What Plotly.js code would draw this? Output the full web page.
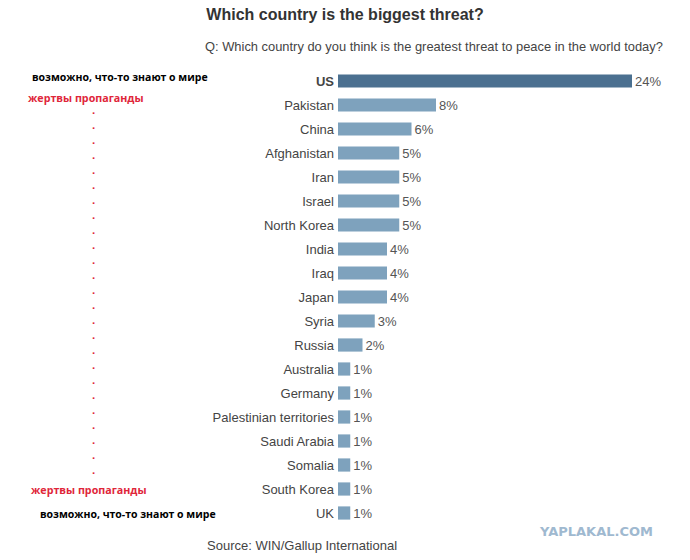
<!DOCTYPE html>
<html>
<head>
<meta charset="utf-8">
<script src="https://cdn.plot.ly/plotly-3.0.1.min.js"></script>
<style>html,body{margin:0;padding:0;background:#fff;}#chart{width:690px;height:560px;}</style>
</head>
<body>
<div id="chart"></div>
<script>
const countries = ["US","Pakistan","China","Afghanistan","Iran","Israel","North Korea","India","Iraq","Japan","Syria","Russia","Australia","Germany","Palestinian territories","Saudi Arabia","Somalia","South Korea","UK"];
const values = [24,8,6,5,5,5,5,4,4,4,3,2,1,1,1,1,1,1,1];
const titleText = "Which country is the biggest threat?";
const subtitleText = "Q: Which country do you think is the greatest threat to peace in the world today?";
const sourceText = "Source: WIN/Gallup International";
const noteKnow = "возможно, что-то знают о мире";
const noteVictims = "жертвы пропаганды";
const watermark = "YAPLAKAL.COM";
const dotCount = 25;

// plot area geometry (px)
const L = 338, R = 681, T = 69, B = 525;
const px2x = p => (p - L) / (R - L);
const px2y = p => (B - p) / (B - T);

const barColors = countries.map((c, i) => i === 0 ? "#4b7090" : "#7ea2bd");
const tickText = countries.map((c, i) => i === 0 ? "<b>" + c + "</b>" : c);

const trace = {
  type: "bar",
  orientation: "h",
  x: values,
  y: countries,
  marker: {color: barColors},
  text: values.map(v => v + "%"),
  textposition: "outside",
  constraintext: "none",
  textfont: {family: "Liberation Sans, Arial, sans-serif", size: 13, color: "#555"},
  cliponaxis: false,
  hoverinfo: "none"
};

const dots = Array(dotCount).fill("<b>.</b>").join("<br>");

const layout = {
  width: 690, height: 560,
  margin: {l: L, r: 690 - R, t: T, b: 560 - B, pad: 0},
  paper_bgcolor: "#fff", plot_bgcolor: "#fff",
  showlegend: false,
  bargap: 0.45,
  font: {family: "Liberation Sans, Arial, sans-serif", color: "#444"},
  title: {
    text: "<b>" + titleText + "</b>",
    x: 0.5, xref: "container", xanchor: "center",
    y: 1 - 14 / 560, yref: "container", yanchor: "middle",
    font: {family: "Liberation Sans, Arial, sans-serif", size: 16, color: "#333"}
  },
  xaxis: {range: [0, 28], showgrid: false, zeroline: false, showticklabels: false, showline: false, fixedrange: true},
  yaxis: {
    type: "category", autorange: "reversed",
    tickmode: "array", tickvals: countries, ticktext: tickText,
    showgrid: false, zeroline: false, showline: false, ticks: "",
    ticklabelstandoff: 3,
    tickfont: {family: "Liberation Sans, Arial, sans-serif", size: 13, color: "#444"}
  },
  annotations: [
    {text: subtitleText, xref: "paper", yref: "paper", x: px2x(665), y: px2y(47), xanchor: "right", yanchor: "middle", showarrow: false,
     font: {family: "Liberation Sans, Arial, sans-serif", size: 12.9, color: "#444"}},
    {text: sourceText, xref: "paper", yref: "paper", x: px2x(302), y: px2y(545), xanchor: "center", yanchor: "middle", showarrow: false,
     font: {family: "Liberation Sans, Arial, sans-serif", size: 13, color: "#444"}},
    {text: "<b>" + noteKnow + "</b>", xref: "paper", yref: "paper", x: px2x(120), y: px2y(77), xanchor: "center", yanchor: "middle", showarrow: false,
     font: {family: "Open Sans, sans-serif", size: 10.5, color: "#000"}},
    {text: "<b>" + noteVictims + "</b>", xref: "paper", yref: "paper", x: px2x(86), y: px2y(98), xanchor: "center", yanchor: "middle", showarrow: false,
     font: {family: "Open Sans, sans-serif", size: 10.7, color: "#e0263a"}},
    {text: dots, xref: "paper", yref: "paper", x: px2x(93), y: px2y(290), xanchor: "center", yanchor: "middle", showarrow: false,
     font: {family: "Liberation Sans, Arial, sans-serif", size: 11.54, color: "#e0263a"}},
    {text: "<b>" + noteVictims + "</b>", xref: "paper", yref: "paper", x: px2x(88.5), y: px2y(490), xanchor: "center", yanchor: "middle", showarrow: false,
     font: {family: "Open Sans, sans-serif", size: 10.7, color: "#e0263a"}},
    {text: "<b>" + noteKnow + "</b>", xref: "paper", yref: "paper", x: px2x(128), y: px2y(514), xanchor: "center", yanchor: "middle", showarrow: false,
     font: {family: "Open Sans, sans-serif", size: 10.5, color: "#000"}},
    {text: "<b>" + watermark + "</b>", xref: "paper", yref: "paper", x: px2x(596), y: px2y(531), xanchor: "center", yanchor: "middle", showarrow: false,
     font: {family: "DejaVu Sans, sans-serif", size: 13, color: "#9fb9d0"}}
  ]
};

Plotly.newPlot("chart", [trace], layout, {displayModeBar: false, staticPlot: true});
</script>
</body>
</html>
